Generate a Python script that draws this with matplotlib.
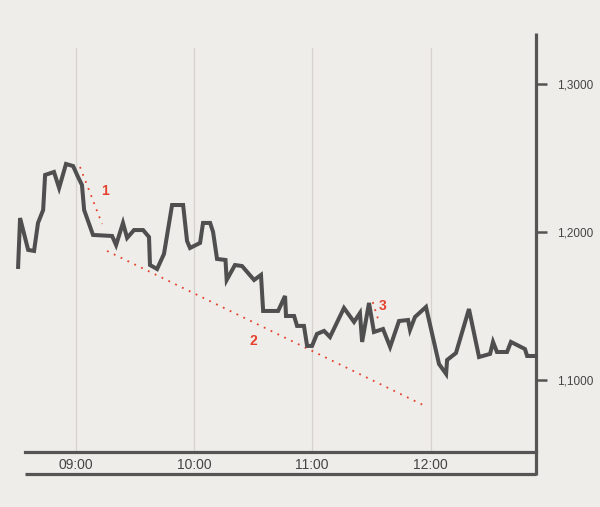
import numpy as np
from matplotlib import pyplot as plt

########################################  DATA  ########################################
# time in minutes after 09:00, price level
minutes = [-29.2, -28.2, -24.1, -21.1, -19.1, -16.5, -15.5, -11.0, -8.4, -4.9,
           -1.3, 1.2, 3.2, 4.3, 8.8, 18.5, 20.5, 24.0, 26.1, 29.6,
           34.2, 37.2, 37.7, 41.3, 44.8, 48.9, 54.5, 56.5, 58.0, 63.1,
           64.6, 68.2, 69.7, 71.7, 76.0, 76.6, 80.8, 84.4, 90.5, 94.0,
           95.1, 102.7, 106.2, 106.7, 110.8, 112.3, 115.8, 117.4, 119.9, 122.4,
           126.0, 129.0, 136.1, 141.2, 144.2, 145.3, 148.8, 151.3, 155.9, 159.5,
           164.0, 168.6, 169.6, 172.1, 177.7, 184.3, 187.9, 188.4, 192.9, 199.5,
           204.6, 210.2, 211.7, 213.7, 218.8, 220.8, 227.9, 229.0, 233.0]
rate = [1.1764, 1.2094, 1.1879, 1.1872, 1.2061, 1.2148, 1.2385, 1.2405, 1.2297, 1.2459,
        1.2445, 1.2371, 1.2317, 1.2148, 1.1980, 1.1973, 1.1912, 1.2061, 1.1960, 1.2013,
        1.2013, 1.1966, 1.1777, 1.1750, 1.1852, 1.2182, 1.2182, 1.1939, 1.1892, 1.1926,
        1.2061, 1.2061, 1.2000, 1.1818, 1.1811, 1.1676, 1.1777, 1.1770, 1.1676, 1.1710,
        1.1467, 1.1467, 1.1568, 1.1433, 1.1433, 1.1366, 1.1366, 1.1231, 1.1231, 1.1312,
        1.1332, 1.1291, 1.1487, 1.1393, 1.1453, 1.1258, 1.1521, 1.1325, 1.1345, 1.1224,
        1.1399, 1.1406, 1.1339, 1.1426, 1.1494, 1.1109, 1.1042, 1.1136, 1.1183, 1.1480,
        1.1156, 1.1177, 1.1258, 1.1190, 1.1190, 1.1258, 1.1210, 1.1163, 1.1163]

# trend lines: (start minute, start rate, end minute, end rate)
trend_names = ['1', '2', '3']
trend_t = [(2.2, 13.4), (15.9, 177.2), (150.7, 154.0)]
trend_v = [(1.2439, 1.2054), (1.1872, 1.0826), (1.1527, 1.1386)]
trend_label_t = [14.9, 90.3, 155.9]
trend_label_v = [1.2277, 1.1263, 1.1500]

tick_minutes = [0, 60, 120, 180]
tick_labels = ['09:00', '10:00', '11:00', '12:00']
rate_ticks = [1.1, 1.2, 1.3]
rate_labels = ['1,1000', '1,2000', '1,3000']

########################################  PLOT  ########################################
bg = '#efede9'
dark = '#555555'
red = '#e5412d'

fig = plt.figure(figsize=(6.0, 5.07), dpi=100, facecolor=bg)
W, H = 600, 507
ax = fig.add_axes([25 / W, 1 - 452 / H, (536 - 25) / W, (452 - 33) / H], facecolor=bg)
ax.set_xlim(-25.7, 233.5)
ax.set_ylim(1.0515, 1.3343)

for m in tick_minutes:
    ax.axvline(m, ymin=0, ymax=0.964, color='#d6d3ce', lw=0.9, zorder=0)

ax.plot(minutes, rate, color='#4f4f4f', lw=2.9, solid_joinstyle='miter', clip_on=False, zorder=3)

for i in range(len(trend_names)):
    ax.plot(trend_t[i], trend_v[i], color=red, lw=1.3, ls=(0, (1, 3.2)), zorder=2)
    ax.text(trend_label_t[i], trend_label_v[i], trend_names[i], color=red,
            fontsize=10, fontweight='bold', family='Liberation Sans', ha='center', va='center')

for s in ['left', 'top', 'right']:
    ax.spines[s].set_visible(False)
ax.spines['bottom'].set_color(dark)
ax.spines['bottom'].set_linewidth(2.3)

# second bottom rule and extended right axis line
low = -(474 - 452) / (452 - 33)
ax.plot([0, 1], [low, low], transform=ax.transAxes, color=dark, lw=2.3, clip_on=False,
        solid_capstyle='butt')
ax.plot([1, 1], [low - 0.003, 1], transform=ax.transAxes, color=dark, lw=2.3, clip_on=False,
        solid_capstyle='butt')

ax.set_xticks(tick_minutes)
ax.set_xticklabels(tick_labels, family='Liberation Sans', fontsize=10, color='#444444')
ax.tick_params(axis='x', length=0, pad=4)

ax.yaxis.tick_right()
ax.set_yticks(rate_ticks)
ax.set_yticklabels(rate_labels, family='Liberation Sans', fontsize=8.5, color='#444444')
ax.tick_params(axis='y', direction='out', length=8, width=1.8, color=dark, pad=7)

fig.savefig('out.png', dpi=100, facecolor=bg)
